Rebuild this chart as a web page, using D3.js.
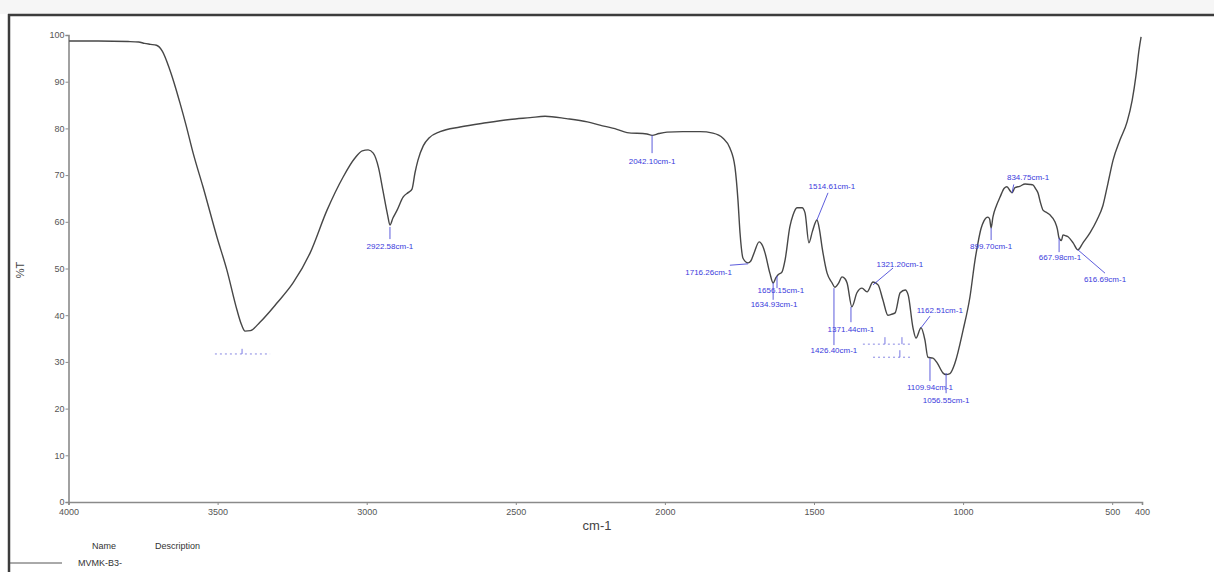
<!DOCTYPE html>
<html>
<head>
<meta charset="utf-8">
<script src="https://cdn.jsdelivr.net/npm/d3@7"></script>
<style>
  html, body { margin: 0; padding: 0; background: #ffffff; }
  svg { display: block; font-family: "Liberation Sans", Arial, sans-serif; }
</style>
</head>
<body>
<svg id="chart" width="1214" height="572"></svg>
<script>
// ---- data: FTIR spectrum (wavenumber cm-1, %T) ----
const wavenumbers = [3998,3900,3800,3765,3745,3725,3705,3685,3660,3640,3626,3605,3582,3549,3502,3469,3435,3420,3408,3390,3358,3301,3247,3190,3133,3079,3040,3015,2995,2978,2960,2945,2930,2922,2912,2898,2878,2860,2848,2838,2828,2810,2790,2754,2687,2600,2520,2452,2402,2330,2260,2218,2161,2127,2060,2043,2020,1993,1940,1882,1839,1805,1782,1765,1755,1748,1738,1721,1712,1700,1684,1672,1664,1648,1637,1628,1621,1607,1597,1581,1570,1557,1540,1530,1517,1505,1490,1482,1473,1456,1440,1430,1418,1406,1396,1389,1373,1356,1339,1322,1302,1285,1269,1252,1240,1228,1211,1194,1184,1168,1158,1141,1128,1118,1101,1087,1067,1058,1044,1027,1000,977,960,950,940,930,917,911,906,900,888,876,862,853,842,836,826,810,792,775,766,756,749,740,732,720,709,692,684,678,670,665,655,648,631,615,598,574,551,531,514,497,474,450,433,420,410,403];
const transmittance = [98.7,98.7,98.6,98.5,98.2,98.0,97.8,96.5,92.5,88.5,85.4,80.5,74.7,67.5,56.7,49.7,41.1,38.0,36.6,36.7,38.5,42.6,46.9,53.3,62.5,69.6,73.6,75.2,75.4,74.7,71.5,66.5,61.5,59.3,60.8,62.5,65.3,66.3,67.0,70.5,73.2,76.3,78.0,79.3,80.3,81.2,81.9,82.3,82.6,82.1,81.4,80.7,79.8,79.1,78.8,78.5,78.9,79.2,79.3,79.3,79.0,77.9,75.8,71.7,64.7,57.6,52.2,51.2,51.6,53.5,55.7,54.8,53.3,49.0,46.9,48.0,48.6,49.3,51.8,58.9,61.5,63.0,63.0,61.9,55.5,58.0,60.4,58.5,54.6,49.0,47.0,46.0,46.8,48.2,47.8,46.9,41.8,44.8,45.8,45.0,47.1,46.5,43.3,40.0,40.2,40.5,44.8,45.4,44.3,37.3,35.1,37.3,34.7,31.0,30.8,29.8,27.6,27.3,27.5,29.8,36.8,43.9,51.8,55.5,58.5,60.2,61.0,60.6,58.7,61.0,63.5,65.3,67.2,67.5,66.6,66.2,67.3,67.6,68.1,68.0,67.9,67.0,66.2,64.0,62.5,62.0,61.5,60.0,58.5,56.5,56.0,57.2,57.0,56.8,55.5,54.0,55.5,57.7,60.4,63.5,68.3,73.2,77.5,81.4,86.0,91.4,96.8,99.6];

// axis ticks
const xTicks = [4000,3500,3000,2500,2000,1500,1000,500,400];
const yTicks = [0,10,20,30,40,50,60,70,80,90,100];

// peak annotations: label text, leader start (cm-1, %T), leader end (cm-1, %T), label anchor (cm-1, %T)
const peakTexts   = ["2922.58cm-1","2042.10cm-1","1716.26cm-1","1656.15cm-1","1634.93cm-1","1514.61cm-1","1426.40cm-1","1371.44cm-1","1321.20cm-1","1162.51cm-1","1109.94cm-1","1056.55cm-1","899.70cm-1","834.75cm-1","667.98cm-1","616.69cm-1"];
const peakFromV   = [2922,2043,1721,1624,1637,1490,1433,1376,1302,1141,1111,1057,906,836,678,615];
const peakFromT   = [58.9,78.5,51.0,48.4,46.9,60.4,45.8,41.8,46.5,37.3,30.8,27.6,58.7,66.2,56.5,54.0];
const peakToV     = [2922,2043,1782,1624,1637,1453,1433,1376,1235,1111,1111,1057,906,830,678,524];
const peakToT     = [56.3,74.7,50.7,45.8,43.3,66.2,33.6,38.5,50.1,39.8,25.9,23.3,56.1,68.0,53.5,49.0];
const labelV      = [2922,2043,1775,1611,1634,1440,1433,1376,1212,1078,1111,1057,906,782,675,524];
const labelT      = [54.2,72.4,48.6,44.8,41.8,67.0,31.9,36.4,50.3,40.5,24.0,21.2,54.2,69.0,51.8,47.1];
const labelAnchor = ["middle","middle","end","middle","middle","middle","middle","middle","middle","middle","middle","middle","middle","middle","middle","middle"];

// faded (unreadable) peak markers drawn as dotted rules
const fadedFromV = [3509,1336,1302];
const fadedToV   = [3324,1178,1168];
const fadedT     = [31.7,33.8,31.0];
const fadedTickV = [[3418],[1262,1205],[1212]];
const fadedTickT = [32.8,35.3,32.5];

const legendName = "MVMK-B3-";

// ---- drawing ----
const svg = d3.select("#chart");
const W = 1214, H = 572;

const x = d3.scaleLinear().domain([4000, 400]).range([68.5, 1142]);
const y = d3.scaleLinear().domain([0, 100]).range([502, 35]);

// page chrome
svg.append("rect").attr("x", 0).attr("y", 0).attr("width", W).attr("height", 14).attr("fill", "#f6f6f6");
svg.append("line").attr("x1", 8).attr("x2", W).attr("y1", 15).attr("y2", 15)
  .attr("stroke", "#3c3c3c").attr("stroke-width", 2.5);
svg.append("line").attr("x1", 9).attr("x2", 9).attr("y1", 14).attr("y2", H)
  .attr("stroke", "#3c3c3c").attr("stroke-width", 2.5);

// axes
const xAxis = d3.axisBottom(x).tickValues(xTicks).tickSize(3).tickPadding(4).tickFormat(d3.format("d"));
const yAxis = d3.axisLeft(y).tickValues(yTicks).tickSize(3).tickPadding(1).tickFormat(d3.format("d"));

const gx = svg.append("g").attr("transform", `translate(0,${y(0)})`).call(xAxis);
const gy = svg.append("g").attr("transform", `translate(${x(4000)},0)`).call(yAxis);
[gx, gy].forEach(g => {
  g.select(".domain").attr("stroke", "#8a8a8a").attr("stroke-width", 1.6);
  g.selectAll(".tick line").attr("stroke", "#8a8a8a");
  g.selectAll(".tick text").attr("fill", "#555").style("font-size", "9px")
    .style("font-family", "'Liberation Sans', Arial, sans-serif");
});

// axis titles
svg.append("text").attr("x", 597).attr("y", 530).attr("text-anchor", "middle")
  .attr("fill", "#444").style("font-size", "13px").text("cm-1");
svg.append("text").attr("transform", "translate(24,270) rotate(-90)").attr("text-anchor", "middle")
  .attr("fill", "#444").style("font-size", "11px").text("%T");

// spectrum line
const pts = wavenumbers.map((v, i) => [v, transmittance[i]]);
const line = d3.line().x(d => x(d[0])).y(d => y(d[1])).curve(d3.curveMonotoneX);
svg.append("path").datum(pts).attr("d", line)
  .attr("fill", "none").attr("stroke", "#474747").attr("stroke-width", 1.4);

// peak annotations
const ann = svg.append("g");
peakTexts.forEach((t, i) => {
  ann.append("line")
    .attr("x1", x(peakFromV[i])).attr("y1", y(peakFromT[i]))
    .attr("x2", x(peakToV[i])).attr("y2", y(peakToT[i]))
    .attr("stroke", "#4b4bd8").attr("stroke-width", 0.9);
  ann.append("text")
    .attr("x", x(labelV[i])).attr("y", y(labelT[i]))
    .attr("text-anchor", labelAnchor[i])
    .attr("fill", "#3a3adc").style("font-size", "8px")
    .text(t);
});

// faded markers
fadedFromV.forEach((v, i) => {
  ann.append("line")
    .attr("x1", x(v)).attr("x2", x(fadedToV[i]))
    .attr("y1", y(fadedT[i])).attr("y2", y(fadedT[i]))
    .attr("stroke", "#7a7ae0").attr("stroke-width", 0.9).attr("stroke-dasharray", "2,3");
  fadedTickV[i].forEach(tv => {
    ann.append("line")
      .attr("x1", x(tv)).attr("x2", x(tv))
      .attr("y1", y(fadedT[i])).attr("y2", y(fadedTickT[i]))
      .attr("stroke", "#6a6ae0").attr("stroke-width", 0.9);
  });
});

// legend
svg.append("text").attr("x", 92).attr("y", 549).attr("fill", "#333").style("font-size", "9px").text("Name");
svg.append("text").attr("x", 155).attr("y", 549).attr("fill", "#333").style("font-size", "9px").text("Description");
svg.append("line").attr("x1", 10).attr("x2", 62).attr("y1", 563).attr("y2", 563)
  .attr("stroke", "#555").attr("stroke-width", 1);
svg.append("text").attr("x", 78).attr("y", 566).attr("fill", "#333").style("font-size", "9px").text(legendName);
</script>
</body>
</html>
